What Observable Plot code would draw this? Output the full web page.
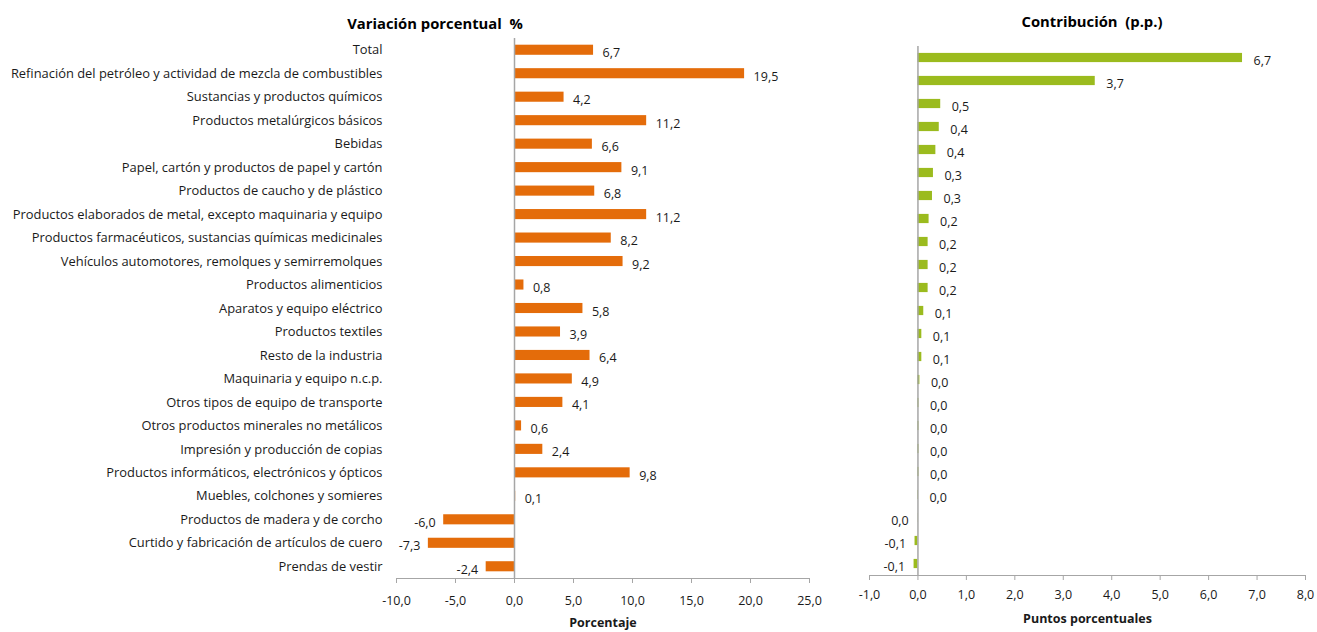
<!DOCTYPE html>
<html><head><meta charset="utf-8">
<script src="https://cdn.jsdelivr.net/npm/d3@7"></script>
<script src="https://cdn.jsdelivr.net/npm/@observablehq/plot@0.6"></script>
<style>
body{margin:0;background:#fff;font-family:"Open Sans",sans-serif;}
#wrap{position:relative;width:1317px;height:632px;overflow:hidden;}
.title{position:absolute;font-weight:bold;font-size:14.8px;color:#000;transform:translateX(-50%);white-space:pre;line-height:20px;}
.panel{position:absolute;top:0;}
</style></head><body>
<div id="wrap">
<div class="title" style="left:435px;top:13px">Variación porcentual  %</div>
<div class="title" style="left:1092px;top:11px">Contribución  (p.p.)</div>
<div class="panel" id="left" style="left:0px"></div>
<div class="panel" id="right" style="left:840px"></div>
</div>
<script>
const categories = [
  "Total",
  "Refinación del petróleo y actividad de mezcla de combustibles",
  "Sustancias y productos químicos",
  "Productos metalúrgicos básicos",
  "Bebidas",
  "Papel, cartón y productos de papel y cartón",
  "Productos de caucho y de plástico",
  "Productos elaborados de metal, excepto maquinaria y equipo",
  "Productos farmacéuticos, sustancias químicas medicinales",
  "Vehículos automotores, remolques y semirremolques",
  "Productos alimenticios",
  "Aparatos y equipo eléctrico",
  "Productos textiles",
  "Resto de la industria",
  "Maquinaria y equipo n.c.p.",
  "Otros tipos de equipo de transporte",
  "Otros productos minerales no metálicos",
  "Impresión y producción de copias",
  "Productos informáticos, electrónicos y ópticos",
  "Muebles, colchones y somieres",
  "Productos de madera y de corcho",
  "Curtido y fabricación de artículos de cuero",
  "Prendas de vestir"
];
const variacion = [6.7, 19.5, 4.2, 11.2, 6.6, 9.1, 6.8, 11.2, 8.2, 9.2, 0.8, 5.8, 3.9, 6.4, 4.9, 4.1, 0.6, 2.4, 9.8, 0.1, -6.0, -7.3, -2.4];
const contribucion = [6.7, 3.66, 0.47, 0.44, 0.37, 0.32, 0.30, 0.23, 0.21, 0.21, 0.21, 0.12, 0.08, 0.08, 0.04, 0.02, 0.02, 0.02, 0.02, 0.01, -0.004, -0.06, -0.08];
const ticksVariacion = [-10, -5, 0, 5, 10, 15, 20, 25];
const ticksContribucion = [-1, 0, 1, 2, 3, 4, 5, 6, 7, 8];

const fmt = v => {
  let s = v.toFixed(1);
  if (s === "-0.0") s = "0.0";
  return s.replace(".", ",");
};

const rowsL = categories.map((c, i) => ({c, v: variacion[i]}));
const rowsR = categories.map((c, i) => ({c, v: contribucion[i]}));
const axisGray = "#A6A6A6";
const txt = "#1a1a1a";

const left = Plot.plot({
  width: 830, height: 632,
  marginLeft: 396, marginRight: 21, marginTop: 38, marginBottom: 54,
  x: {domain: [-10, 25]},
  y: {domain: categories, paddingInner: 0.57, paddingOuter: 0.285, round: false},
  style: {fontFamily: "'Open Sans', sans-serif", fontSize: "12.5px", color: txt, background: "transparent"},
  marks: [
    Plot.barX(rowsL, {x: "v", y: "c", fill: "#E46C0A"}),
    Plot.ruleX([0], {stroke: axisGray, strokeWidth: 1.5}),
    Plot.frame({anchor: "bottom", stroke: axisGray}),
    Plot.axisX({ticks: ticksVariacion, tickFormat: fmt, tickSize: 5, tickPadding: 13, stroke: axisGray, label: null}),
    Plot.axisY({tickSize: 0, tickPadding: 14, label: null, fontSize: 12.9}),
    Plot.text(rowsL.filter(d => d.v >= 0), {x: "v", y: "c", text: d => fmt(d.v), textAnchor: "start", dx: 9, dy: 3}),
    Plot.text(rowsL.filter(d => d.v < 0), {x: "v", y: "c", text: d => fmt(d.v), textAnchor: "end", dx: -8, dy: 3}),
    Plot.text(["Porcentaje"], {frameAnchor: "bottom", dy: 48, fontWeight: "bold"})
  ]
});
document.getElementById("left").appendChild(left);

const right = Plot.plot({
  width: 477, height: 632,
  marginLeft: 29, marginRight: 12, marginTop: 46, marginBottom: 57,
  x: {domain: [-1, 8]},
  y: {domain: categories, paddingInner: 0.6, paddingOuter: 0.3, axis: null, round: false},
  style: {fontFamily: "'Open Sans', sans-serif", fontSize: "12.5px", color: txt, background: "transparent"},
  marks: [
    Plot.barX(rowsR, {x: "v", y: "c", fill: "#9BBB1E"}),
    Plot.ruleX([0], {stroke: axisGray, strokeWidth: 1.5}),
    Plot.frame({anchor: "bottom", stroke: axisGray}),
    Plot.axisX({ticks: ticksContribucion, tickFormat: fmt, tickSize: 5, tickPadding: 10, stroke: axisGray, label: null}),
    Plot.text(rowsR.filter(d => d.v >= 0), {x: "v", y: "c", text: d => fmt(d.v), textAnchor: "start", dx: 11, dy: 3}),
    Plot.text(rowsR.filter(d => d.v < 0), {x: "v", y: "c", text: d => fmt(d.v), textAnchor: "end", dx: -9, dy: 3}),
    Plot.text(["Puntos porcentuales"], {frameAnchor: "bottom", dy: 47, fontWeight: "bold"})
  ]
});
document.getElementById("right").appendChild(right);
</script>
</body></html>
